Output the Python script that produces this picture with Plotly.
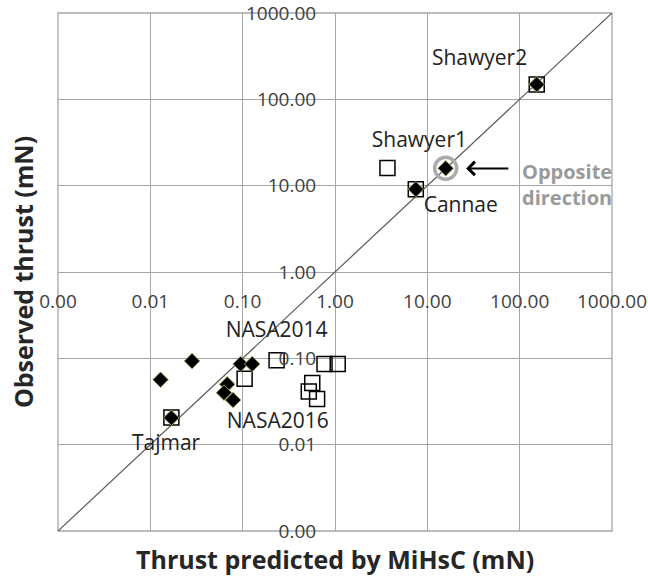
import plotly.graph_objects as go

# ---- data (mN) ----
tick_vals = [0.001, 0.01, 0.1, 1, 10, 100, 1000]
tick_text = ["0.00", "0.01", "0.10", "1.00", "10.00", "100.00", "1000.00"]

square_x = [0.0169, 7.5, 153, 3.7, 0.105, 0.233, 0.77, 1.07, 0.567, 0.52, 0.64]
square_y = [0.0207, 9.1, 149, 16.0, 0.058, 0.095, 0.086, 0.086, 0.0517, 0.0412, 0.0339]

diamond_x = [0.0169, 7.5, 153, 15.8, 0.0129, 0.0283, 0.095, 0.127, 0.068, 0.0628, 0.0787]
diamond_y = [0.0205, 9.1, 149, 15.9, 0.0565, 0.093, 0.086, 0.086, 0.050, 0.040, 0.0329]

opposite_x = [15.8]
opposite_y = [15.9]

diag_x = [0.001, 1000]
diag_y = [0.001, 1000]

label_text = ["Shawyer2", "Shawyer1", "Cannae", "NASA2014", "NASA2016", "Tajmar"]
label_x = [36.8, 8.2, 23, 0.233, 0.24, 0.0148]
label_y = [290, 32.6, 5.7, 0.204, 0.0178, 0.0100]

FONT = "Open Sans"

fig = go.Figure()

fig.add_trace(go.Scatter(
    x=diag_x, y=diag_y, mode="lines",
    line=dict(color="#595959", width=1.2), hoverinfo="skip", showlegend=False))

fig.add_trace(go.Scatter(
    x=square_x, y=square_y, mode="markers",
    marker=dict(symbol="square-open", size=15, color="black", line=dict(color="black", width=1.5)),
    showlegend=False))

fig.add_trace(go.Scatter(
    x=opposite_x, y=opposite_y, mode="markers",
    marker=dict(symbol="circle-open", size=22, color="#ababab", line=dict(color="#ababab", width=3.5)),
    showlegend=False))

fig.add_trace(go.Scatter(
    x=diamond_x, y=diamond_y, mode="markers",
    marker=dict(symbol="diamond", size=12, color="black", line=dict(color="rgba(170,170,90,0.9)", width=1)),
    showlegend=False))

fig.add_trace(go.Scatter(
    x=label_x, y=label_y, mode="text", text=label_text,
    textfont=dict(family=FONT, size=21, color="#222222"),
    textposition="middle center", hoverinfo="skip", showlegend=False))

axis_common = dict(
    type="log", range=[-3, 3], tickvals=tick_vals, ticktext=tick_text,
    showgrid=True, gridcolor="#a6a6a6", gridwidth=1.3,
    showline=False, zeroline=False, automargin=False,
    anchor="free", position=0.5, ticklabeloverflow="allow",
    ticks="outside", tickcolor="rgba(0,0,0,0)",
    tickfont=dict(family=FONT, size=19, color="#404040"),
)
fig.update_layout(
    width=648, height=581,
    margin=dict(l=58, r=36, t=13, b=50),
    paper_bgcolor="white", plot_bgcolor="white",
    xaxis=dict(**axis_common, ticklen=12),
    yaxis=dict(**axis_common, ticklen=15),
    shapes=[dict(type="rect", xref="paper", yref="paper", x0=0, x1=1, y0=0, y1=1,
                 line=dict(color="#a6a6a6", width=1.3), layer="below")],
    annotations=[
        dict(text="<b>Thrust predicted by MiHsC (mN)</b>", xref="paper", yref="paper",
             x=0.5, y=-0.054, xanchor="center", yanchor="middle", showarrow=False,
             font=dict(family=FONT, size=25, color="#262626")),
        dict(text="<b>Observed thrust (mN)</b>", xref="paper", yref="paper",
             x=-0.063, y=0.5, xanchor="center", yanchor="middle", textangle=-90, showarrow=False,
             font=dict(family=FONT, size=25, color="#262626")),
        dict(text="<b>Opposite<br>direction</b>", xref="x", yref="y",
             x=2.005, y=1.01, xanchor="left", yanchor="middle", showarrow=False, align="left",
             font=dict(family=FONT, size=20, color="#9a9a9a")),
        dict(text="", xref="x", yref="y", axref="x", ayref="y",
             x=1.42, y=1.2, ax=1.893, ay=1.2, showarrow=True,
             arrowhead=4, arrowsize=1.3, arrowwidth=2, arrowcolor="black"),
    ],
)

fig.write_html(
    "out.html",
    config={"displayModeBar": False},
    post_script="document.body.style.margin='0';document.body.style.overflow='hidden';",
)
